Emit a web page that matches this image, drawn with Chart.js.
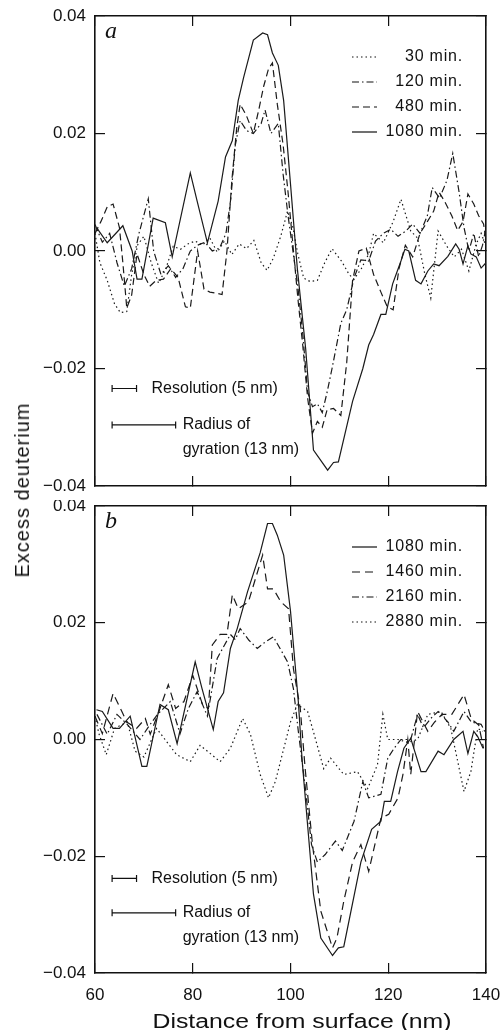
<!DOCTYPE html>
<html lang="en">

<head>
    <meta charset="UTF-8">
    <title>Excess deuterium profiles</title>
    <script src="https://cdn.jsdelivr.net/npm/chart.js"></script>
    <style>
        body { margin: 0; background: #fff; width: 503px; height: 1030px; position: relative; overflow: hidden; }
        canvas { position: absolute; left: 0; }
        #graficoA { top: 0; }
        #graficoB { top: 500px; }
        .titulo { position: absolute; font-family: 'Liberation Sans', Arial, sans-serif; font-size: 20px; line-height: 20px; color: #111; white-space: nowrap; }
        #tituloY { left: 22px; top: 490px; letter-spacing: 1px; transform: translate(-50%, -50%) rotate(-90deg); }
        #tituloX { left: 302px; top: 1011px; transform: translateX(-50%) scaleX(1.24); }
    </style>
</head>

<body>
    <canvas id="graficoA" width="503" height="500"></canvas>
    <canvas id="graficoB" width="503" height="530"></canvas>
    <div id="tituloY" class="titulo">Excess deuterium</div>
    <div id="tituloX" class="titulo">Distance from surface (nm)</div>
</body>

</html>

<script>
    // axis ticks
    const xTicks = [60, 80, 100, 120, 140];
    const yTicks = [-0.04, -0.02, 0.00, 0.02, 0.04];

    // panel a: [distance (nm), excess deuterium]
    const a30 = [[60,0.003],[61,-0.002],[62.5,-0.005],[64,-0.009],[65.2,-0.0105],[66.5,-0.0103],[67.5,-0.004],[68.7,0.001],[70,0.0025],[71.5,-0.002],[73,-0.0055],[74.5,-0.003],[76,0.0008],[77.5,0.0003],[79,0.0012],[80.5,0.0017],[82,0.001],[83.5,0.0022],[85,-0.0002],[86.5,0.0017],[88,-0.0006],[89.5,0.0012],[91,0.0004],[92.5,0.0018],[94,-0.002],[95.2,-0.0033],[96.5,-0.0012],[98,0.0025],[99.4,0.0068],[100.5,0.004],[101.5,-0.0005],[102.7,-0.0046],[104,-0.0052],[105.5,-0.005],[107,-0.002],[108.5,0.0004],[110.5,-0.0018],[112,-0.004],[113,-0.0048],[114.5,-0.003],[116,-0.0005],[117,0.003],[119,0.0014],[121,0.005],[122.6,0.0088],[124.6,0.0034],[126,0.0022],[127.5,-0.004],[128.7,-0.008],[130.2,0.0034],[132,0.0008],[133.5,-0.001],[135,0.0003],[136.5,-0.0034],[138,0.0012],[139,0.003],[140,0.0008]];
    const a120 = [[60,0.0045],[61.5,0.0015],[63,0.003],[64.5,-0.002],[66,-0.006],[67.5,-0.003],[69,0.003],[70.9,0.0089],[72,0.0],[73.5,-0.004],[75,-0.0025],[76.5,-0.0045],[78,-0.003],[79.5,0.0],[81,0.001],[82.5,0.0015],[84,0.0],[85.5,0.0005],[86.8,0.003],[87.8,0.009],[88.7,0.018],[89.7,0.0222],[91,0.0205],[92.4,0.02],[94,0.0217],[94.8,0.024],[96,0.02],[97.5,0.0217],[98.5,0.013],[99.5,0.006],[100.5,0.0],[101.5,-0.006],[102.5,-0.014],[103.5,-0.024],[104.5,-0.0265],[105.5,-0.026],[106.5,-0.0275],[107.5,-0.024],[108.5,-0.02],[110.3,-0.0123],[111.5,-0.01],[113,-0.0046],[114.4,-0.0015],[116,-0.0017],[117.4,0.0017],[119,0.003],[120.5,0.0037],[122,0.0025],[123.6,0.0034],[125,0.0046],[126.5,0.003],[128,0.006],[129,0.0108],[130.5,0.009],[132,0.012],[133.2,0.0166],[134.5,0.01],[135.5,0.004],[136.5,0.0],[137.5,0.003],[138.5,-0.001],[139.3,0.001],[140,0.004]];
    const a480 = [[60,0.003],[61.2,0.005],[62.5,0.0075],[63.7,0.008],[65,0.004],[65.7,-0.002],[66.5,-0.0097],[67.5,-0.0075],[68.6,-0.0005],[70,-0.004],[71.2,-0.006],[72.5,-0.005],[74,-0.0048],[75.5,-0.003],[77,-0.0045],[78.5,-0.0095],[79.5,-0.0097],[81,0.0],[82.3,-0.0065],[83.5,-0.007],[85,-0.0072],[86,-0.0074],[87,0.0],[88,0.012],[89,0.021],[89.7,0.025],[91,0.023],[92.4,0.02],[93.5,0.024],[94.5,0.028],[95.5,0.031],[96.3,0.032],[97.3,0.025],[98.5,0.018],[99.5,0.01],[100.5,0.001],[101.5,-0.008],[102.5,-0.016],[103.5,-0.025],[104.5,-0.031],[105.5,-0.029],[106.5,-0.03],[107.5,-0.027],[108.8,-0.0268],[110.3,-0.028],[111.5,-0.019],[112.7,-0.005],[114,0.0],[115.5,0.0005],[117,-0.004],[118.5,-0.007],[119.8,-0.0095],[121,-0.01],[122.2,-0.003],[123.5,0.001],[125,-0.001],[126.5,0.003],[128,0.005],[129.3,0.0068],[130.4,0.01],[131.5,0.0085],[133,0.006],[134.2,0.0035],[135.3,0.005],[136.3,0.0097],[137.5,0.008],[138.5,0.006],[139.5,0.0046],[140,0.002]];
    const a1080 = [[60.4,0.0039],[62.5,0.0014],[65.7,0.0043],[67.6,0.0],[68.6,-0.0048],[69.6,-0.0048],[71.9,0.0056],[74.4,0.0048],[75.8,-0.001],[79.5,0.0133],[80.9,0.0085],[83.0,0.0014],[85.2,0.0085],[86.7,0.016],[88.1,0.0188],[89.3,0.0256],[90.4,0.0295],[92.4,0.0359],[94.3,0.0371],[95.3,0.0368],[96.3,0.0337],[97.5,0.0316],[98.6,0.0256],[100,0.0114],[101.4,-0.003],[103.1,-0.0166],[104.7,-0.0339],[107.6,-0.0373],[108.8,-0.036],[109.8,-0.0359],[112.7,-0.0256],[114.8,-0.02],[116,-0.016],[117,-0.0142],[118.5,-0.0108],[119.5,-0.0108],[120.9,-0.0056],[122.6,-0.0017],[123.4,0.0003],[124.2,0.0],[125.6,-0.005],[126.7,-0.0056],[128.1,-0.0034],[129.3,-0.0022],[130.4,-0.0025],[132.2,-0.0009],[133.8,0.0012],[134.5,0.0003],[135.3,-0.0022],[136.3,0.0009],[136.9,-0.0005],[138,-0.001],[139,-0.0029],[140,-0.002]];

    // panel b
    const b1080 = [[60.3,0.0051],[61.5,0.0048],[63.7,0.0019],[65,0.0019],[67.2,0.004],[69.6,-0.0046],[70.6,-0.0046],[73.3,0.006],[75,0.0051],[76.8,-0.0007],[80.5,0.0133],[81.9,0.0087],[84.2,0.0017],[85.2,0.0065],[86.3,0.008],[87.7,0.0156],[89.1,0.019],[91.2,0.0253],[93.8,0.032],[95.3,0.037],[96.3,0.037],[97.3,0.035],[98.6,0.0316],[100,0.022],[100.6,0.0162],[101.6,0.0065],[102.4,-0.0038],[104.7,-0.0265],[106.2,-0.034],[108.6,-0.037],[109.8,-0.0357],[110.9,-0.0355],[114.4,-0.021],[116.6,-0.0154],[118.5,-0.014],[119.2,-0.0106],[120.5,-0.0106],[121.9,-0.0055],[123.2,-0.0015],[124.6,0.0002],[126.7,-0.0055],[127.7,-0.0055],[130.2,-0.002],[131.4,-0.0026],[133.4,0.0],[135.3,0.0014],[136.3,-0.0024],[137.5,0.0014],[138.3,0.0005],[139.4,-0.0015]];
    const b1460 = [[60,0.004],[61.5,0.001],[63.7,0.0079],[65.5,0.0048],[66.5,0.003],[68.5,0.0019],[70.3,0.0036],[71.3,0.0009],[73.3,0.0053],[75,0.0094],[76.5,0.0053],[78.2,0.0065],[80,0.011],[82,0.006],[83.2,0.0053],[84,0.0162],[85.6,0.018],[87,0.018],[88.1,0.0248],[89.3,0.0224],[91.4,0.0236],[94.3,0.0316],[95.3,0.0258],[96.5,0.0258],[98,0.0236],[99.6,0.0224],[100.6,0.0121],[102,0.0053],[103,-0.005],[104.5,-0.018],[106.2,-0.0294],[108.6,-0.0357],[109.5,-0.034],[110.9,-0.0277],[112.7,-0.021],[114.4,-0.018],[116,-0.0226],[118.5,-0.0135],[120.1,-0.0128],[122,-0.01],[123,-0.006],[124,0.0],[124.6,-0.006],[126,0.0048],[128.1,0.0014],[129.5,0.003],[131,0.0043],[133,0.0043],[135.5,0.0077],[137,0.0035],[138.5,0.0025],[139.5,-0.0015]];
    const b2160 = [[60.4,0.0043],[62.5,0.0009],[64.5,0.0043],[66.6,0.0026],[69.2,0.0],[71.3,0.0026],[72.8,0.0043],[75.4,0.0065],[77.4,0.001],[79.1,0.0053],[80.9,0.0082],[83,0.004],[85,0.0139],[87.7,0.018],[88.7,0.0171],[89.7,0.019],[91.5,0.017],[93.2,0.0156],[94.5,0.0165],[96.5,0.0176],[99.4,0.0133],[100.6,0.0087],[101.6,0.0014],[103,-0.008],[104.3,-0.018],[105.5,-0.021],[107.1,-0.0197],[109.2,-0.0174],[110.6,-0.019],[113,-0.014],[114.8,-0.0072],[116,-0.01],[118.5,-0.0094],[119.9,-0.0032],[121.2,-0.0015],[122.6,0.0],[124.6,0.0],[126,0.0043],[127.2,0.002],[128.7,0.0036],[130.2,0.0048],[132.2,0.003],[133.4,0.0014],[135.5,0.0048],[137,0.003],[139,0.0026],[140,0.001]];
    const b2880 = [[60,0.004],[60.8,0.001],[62.3,-0.0026],[64,0.0019],[66.6,0.003],[68.2,-0.002],[70,-0.003],[72.6,0.0019],[74.6,-0.0003],[76.7,-0.0026],[79.5,-0.0038],[81.5,-0.001],[83,-0.002],[85.6,-0.0038],[87.7,-0.0015],[90.2,0.0036],[91.8,0.0009],[93.8,-0.006],[95.5,-0.01],[96.9,-0.0072],[98.3,-0.0026],[100,0.003],[101.4,0.006],[103.5,0.0048],[104.5,0.0019],[106.8,-0.005],[108.2,-0.0032],[110.9,-0.006],[113.7,-0.0055],[115.8,-0.0084],[117.8,-0.0043],[118.9,0.0043],[119.9,0.0],[122,0.0],[124,-0.0005],[126,0.0],[128.1,0.0043],[130.8,0.0048],[132.8,0.0019],[135.5,-0.0089],[136.9,-0.0055],[138.3,0.0019],[139.4,0.0014]];

    // line styles of the four curves
    const pontilhado = [1.5, 3];
    const tracoPonto = [7, 3, 1.5, 3];
    const tracejado = [7, 4];
    const corLinha = '#1a1a1a';

    function serie(label, pontos, dash) {
        return {
            label: label,
            data: pontos.map(p => ({ x: p[0], y: p[1] })),
            borderColor: corLinha,
            borderWidth: 1.2,
            borderDash: dash,
            pointRadius: 0,
            tension: 0,
            fill: false
        };
    }

    // letter, legend and the two resolution bars drawn inside the plot
    const extras = {
        id: 'extras',
        afterDatasetsDraw(chart, args, opts) {
            const { ctx, chartArea, scales } = chart;
            const x = scales.x, y = scales.y;
            ctx.save();
            ctx.strokeStyle = '#111';
            ctx.fillStyle = '#111';

            ctx.font = 'italic 24px "Liberation Serif"';
            ctx.textAlign = 'left';
            ctx.textBaseline = 'alphabetic';
            ctx.fillText(opts.letra, chartArea.left + 10, chartArea.top + 22);

            // legend
            ctx.font = '16px "Liberation Sans"';
            ctx.textAlign = 'right';
            ctx.textBaseline = 'middle';
            ctx.letterSpacing = '0.8px';
            chart.data.datasets.forEach(function (ds, i) {
                const yy = chartArea.top + 41 + i * 25;
                ctx.setLineDash(ds.borderDash || []);
                ctx.lineWidth = 1.2;
                ctx.beginPath();
                ctx.moveTo(chartArea.right - 134, yy);
                ctx.lineTo(chartArea.right - 109, yy);
                ctx.stroke();
                ctx.fillText(ds.label, chartArea.right - 23, yy);
            });

            // resolution / radius of gyration bars
            ctx.setLineDash([]);
            ctx.letterSpacing = '0px';
            ctx.textAlign = 'left';
            ctx.lineWidth = 1.2;
            function barra(x0, x1, v) {
                const p0 = x.getPixelForValue(x0), p1 = x.getPixelForValue(x1), py = y.getPixelForValue(v);
                ctx.beginPath();
                ctx.moveTo(p0, py); ctx.lineTo(p1, py);
                ctx.moveTo(p0, py - 3.5); ctx.lineTo(p0, py + 3.5);
                ctx.moveTo(p1, py - 3.5); ctx.lineTo(p1, py + 3.5);
                ctx.stroke();
                return { fim: p1, py: py };
            }
            const r1 = barra(63.5, 68.5, opts.yRes);
            ctx.fillText('Resolution (5 nm)', r1.fim + 15, r1.py);
            const r2 = barra(63.5, 76.5, opts.yRaio);
            ctx.fillText('Radius of', r2.fim + 7, r2.py);
            ctx.fillText('gyration (13 nm)', r2.fim + 7, r2.py + 25);
            ctx.restore();
        }
    };

    function escalas(mostrarX, alturaTopo, alturaBase) {
        const grade = { drawOnChartArea: false, drawTicks: true, tickLength: -10, color: '#111', lineWidth: 1.2 };
        const borda = { display: true, color: '#111', width: 1.6 };
        const fonte = { family: 'Liberation Sans', size: 17 };
        const eixoX = function (pos, mostra, altura) {
            return {
                type: 'linear', position: pos, min: xTicks[0], max: xTicks[xTicks.length - 1],
                afterBuildTicks: s => { s.ticks = xTicks.map(v => ({ value: v })); },
                ticks: { display: mostra, padding: 22, maxRotation: 0, autoSkip: false, color: '#111', font: fonte },
                grid: grade, border: borda,
                afterFit: s => { s.height = altura; s.paddingLeft = 0; s.paddingRight = 0; }
            };
        };
        const eixoY = function (pos, mostra, largura) {
            return {
                type: 'linear', position: pos, min: yTicks[0], max: yTicks[yTicks.length - 1],
                afterBuildTicks: s => { s.ticks = yTicks.map(v => ({ value: v })); },
                ticks: {
                    display: mostra, padding: 19, color: '#111', font: fonte,
                    callback: v => (v < -1e-9 ? '\u2212' : '') + Math.abs(v).toFixed(2)
                },
                grid: grade, border: borda,
                afterFit: s => { s.width = largura; s.paddingTop = 0; s.paddingBottom = 0; }
            };
        };
        return {
            x: eixoX('bottom', mostrarX, alturaBase),
            xTopo: eixoX('top', false, alturaTopo),
            y: eixoY('left', true, 95),
            yDir: eixoY('right', false, 17)
        };
    }

    function criarGrafico(id, datasets, mostrarX, alturaTopo, alturaBase, extrasOpts) {
        return new Chart(document.getElementById(id), {
            type: 'line',
            data: { datasets: datasets },
            options: {
                responsive: false,
                animation: false,
                devicePixelRatio: 1,
                layout: { padding: 0 },
                scales: escalas(mostrarX, alturaTopo, alturaBase),
                plugins: {
                    legend: { display: false },
                    tooltip: { enabled: false },
                    extras: extrasOpts
                }
            },
            plugins: [extras]
        });
    }

    criarGrafico('graficoA', [
        serie('30 min.', a30, pontilhado),
        serie('120 min.', a120, tracoPonto),
        serie('480 min.', a480, tracejado),
        serie('1080 min.', a1080, [])
    ], false, 16, 14, { letra: 'a', yRes: -0.0234, yRaio: -0.0296 });

    criarGrafico('graficoB', [
        serie('1080 min.', b1080, []),
        serie('1460 min.', b1460, [8, 5]),
        serie('2160 min.', b2160, tracoPonto),
        serie('2880 min.', b2880, pontilhado)
    ], true, 6, 57, { letra: 'b', yRes: -0.0238, yRaio: -0.0297 });
</script>
